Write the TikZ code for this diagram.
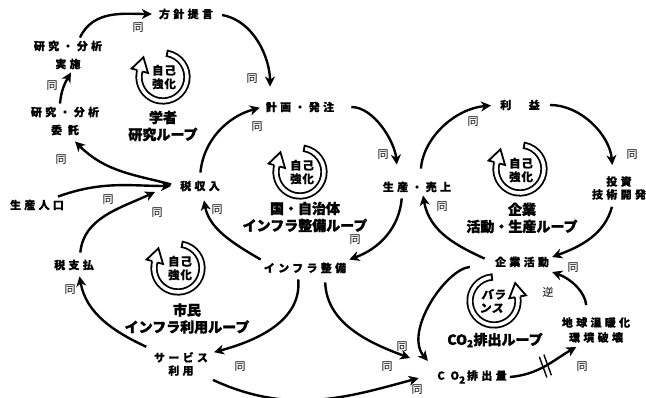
\documentclass[tikz,border=0pt]{standalone}
\usepackage{fontspec}
\setmainfont{Noto Sans CJK JP}
\newfontfamily\labf[LetterSpace=30,BoldFeatures={FakeBold=0.6}]{Noto Sans CJK JP}
\newfontfamily\ringf[LetterSpace=8,BoldFeatures={FakeBold=0.3}]{Noto Sans CJK JP}
\newfontfamily\ttlf[BoldFeatures={FakeBold=1.6}]{Noto Sans CJK JP}
\usetikzlibrary{arrows.meta,calc}
\def\ringr{24}
\newcommand\ringicon[4]{%
  \pgfmathsetmacro\sgn{ifthenelse(#4<#3,-1,1)}%
  \pgfmathsetmacro\tang{#4+90*\sgn}%
  \begin{scope}[shift={(#1,#2)}]
    \draw[ringline] (#3:\ringr) arc[start angle=#3,end angle=#4,radius=\ringr];
    \draw[line width=1.8pt] (#3:{\ringr-3.6}) -- (#3:{\ringr+3.6});
    \draw[line width=1.8pt,fill=white,line join=miter] (#4:{\ringr+2.7}) -- (#4:{\ringr+8.5}) -- ($(#4:\ringr)+(\tang:14)$) -- (#4:{\ringr-8.5}) -- (#4:{\ringr-2.7});
  \end{scope}}
\begin{document}
\begin{tikzpicture}[x=1pt,y=1pt,
  lab/.style={font=\labf\bfseries\fontsize{11}{18}\selectfont,align=center,inner sep=3pt},
  lab13/.style={lab,font=\labf\bfseries\fontsize{11}{13}\selectfont},
  dou/.style={font=\fontsize{11}{12}\selectfont,inner sep=0pt},
  ttl/.style={font=\ttlf\bfseries\fontsize{14}{17}\selectfont,align=center,inner sep=0pt},
  rtxt/.style={font=\ringf\bfseries\fontsize{11.5}{13.5}\selectfont,align=center,inner sep=0pt},
  arr/.style={line width=2.4pt,-{Stealth[length=10pt,width=10pt,inset=3pt]}},
  ringline/.style={line width=1.8pt,double=white,double distance=3.6pt}]
\useasboundingbox (0,0) rectangle (646,-398);

% loop icons
\ringicon{163}{-77}{80}{-195}
\ringicon{300}{-172}{80}{-195}
\ringicon{520}{-169}{80}{-195}
\ringicon{178}{-268}{80}{-195}
\ringicon{494}{-301}{95}{370}

% nodes
\node[lab] (fsk) at (186,-14) {方針提言};
\node[lab] (jisshi) at (68,-55) {研究・分析\\実施};
\node[lab] (itaku) at (65,-121) {研究・分析\\委 託};
\node[lab] (keikaku) at (300,-107) {計画・発注};
\node[lab] (zeishu) at (200,-186) {税収入};
\node[lab] (jinko) at (37,-205) {生産人口};
\node[lab] (zeishi) at (74,-265) {税支払};
\node[lab] (infra) at (305,-268) {インフラ整備};
\node[lab13] (service) at (181,-364) {サービス\\利用};
\node[lab] (seisan) at (417,-187) {生産・売上};
\node[lab] (rieki) at (520,-105) {利　益};
\node[lab13] (toshi) at (619,-188) {投資\\技術開発};
\node[lab] (kigyo) at (522,-262) {企業活動};
\node[lab,font=\labf\bfseries\fontsize{11}{15}\selectfont] (ondanka) at (596,-330) {地球温暖化\\環境破壊};
\node[lab] (co2) at (472,-377) {C O\raisebox{-4pt}{\fontsize{10}{10}\selectfont 2}\,排出量};

% loop titles
\node[ttl] (t1) at (163,-126) {学者\\研究ループ};
\node[ttl] (t2) at (305,-217) {国・自治体\\インフラ整備ループ};
\node[ttl] (t3) at (522,-218) {企業\\活動・生産ループ};
\node[ttl] (t4) at (187,-318.5) {市民\\インフラ利用ループ};
\node[ttl] (t5) at (495,-340) {CO\textsubscript{2}排出ループ};

% ring texts
\node[rtxt] (r1t) at (164,-77) {自己\\強化};
\node[rtxt] (r2t) at (302,-172) {自己\\強化};
\node[rtxt] (r3t) at (521,-170) {自己\\強化};
\node[rtxt] (r4t) at (180,-268) {自己\\強化};
\node[rtxt,xslant=0.15] (r5t) at (493,-301) {バラ\\ンス};

% connectors
\draw[arr] ([xshift=-5pt]itaku.north) to[out=85,in=240] ([xshift=3pt]jisshi.south);
\draw[arr,shorten >=4pt] ([xshift=12pt]jisshi.north) to[out=65,in=180] (fsk.west);
\draw[arr,shorten <=6pt,shorten >=12pt] (fsk.east) to[out=-10,in=90] ([xshift=-30pt]keikaku.north);
\draw[arr,shorten <=14pt,shorten >=14pt] (keikaku.east) to[out=0,in=95] ([xshift=-19pt]seisan.north);
\draw[arr,shorten <=5pt,shorten >=3pt] (zeishu.north) to[out=85,in=195] (keikaku.west);
\draw[arr,shorten <=6pt] (zeishu.west) to[out=165,in=-45] ([xshift=10pt,yshift=-3pt]itaku.south);
\draw[arr,shorten >=6pt] ([xshift=21pt]jinko.north) to[out=20,in=180] (zeishu.west);
\draw[arr,shorten <=4pt] ([xshift=6pt]zeishi.north) to[out=85,in=205] ([xshift=-22pt,yshift=-6pt]zeishu.west);
\draw[arr,shorten <=5pt,shorten >=3pt] (service.north west) to[out=155,in=-80] ([xshift=5pt]zeishi.south);
\draw[arr,shorten <=3pt,shorten >=3pt] ([xshift=-7pt]infra.south) to[out=-85,in=15] ([yshift=-4pt]service.north east);
\draw[arr,shorten >=6pt] (infra.north west) to[out=150,in=-80] ([xshift=3pt]zeishu.south);
\draw[arr,shorten <=3pt] ([xshift=-15pt]seisan.south) to[out=-95,in=20] (infra.north east);
\draw[arr,shorten <=10pt,shorten >=6pt] ([xshift=3pt]seisan.north) to[out=85,in=185] (rieki.west);
\draw[arr,shorten <=7pt,shorten >=8pt] (rieki.east) to[out=0,in=95] ([xshift=-6pt]toshi.north);
\draw[arr,shorten <=4pt] ([xshift=-6pt]toshi.south) to[out=-105,in=20] ([yshift=5pt]kigyo.east);
\draw[arr,shorten <=8pt] (kigyo.west) to[out=155,in=-80] ([xshift=6pt]seisan.south);
\draw[arr,shorten <=22pt,shorten >=8pt] ([yshift=-3pt]kigyo.west) to[out=185,in=130] ([xshift=-39pt]co2.north);
\draw[arr,shorten <=6pt] ([xshift=20pt]infra.south) to[out=-88,in=160] ([xshift=-24pt,yshift=19pt]co2.west);
\draw[arr,shorten <=2pt,shorten >=16pt] (service.south east) to[out=-25,in=195] ([yshift=3pt]co2.west);
\draw[arr,shorten >=2pt] (co2.east) to[out=5,in=210] coordinate[pos=0.5] (dm) ([xshift=-18pt]ondanka.south);
\draw[arr,shorten <=9pt] ([xshift=-9pt]ondanka.north) to[out=95,in=-20] ([yshift=-10pt]kigyo.east);

% delay mark
\draw[line width=1.4pt] ($(dm)+(25:-2.5)+(110:11)$) -- ($(dm)+(25:-2.5)+(110:-11)$);
\draw[line width=1.4pt] ($(dm)+(25:2.5)+(110:11)$) -- ($(dm)+(25:2.5)+(110:-11)$);

% polarity labels
\node[dou] (d1) at (138,-28) {同};
\node[dou] (d2) at (52,-86) {同};
\node[dou] (d3) at (61,-160) {同};
\node[dou] (d4) at (252,-79) {同};
\node[dou] (d5) at (257,-127) {同};
\node[dou] (d6) at (383,-155) {同};
\node[dou] (d7) at (108,-200) {同};
\node[dou] (d8) at (157,-213) {同};
\node[dou] (d9) at (217,-210) {同};
\node[dou] (d10) at (70,-290) {同};
\node[dou] (d11) at (355,-240) {同};
\node[dou] (d12) at (240,-367) {同};
\node[dou] (d13) at (442,-207) {同};
\node[dou] (d14) at (473,-122) {同};
\node[dou] (d15) at (632,-155) {同};
\node[dou] (d16) at (573,-268) {同};
\node[dou] (d17) at (402,-347) {同};
\node[dou] (d18) at (387,-367) {同};
\node[dou] (d19) at (417,-390) {同};
\node[dou] (d20) at (582,-367) {同};
\node[dou] (gyaku) at (548,-292) {逆};
\end{tikzpicture}
\end{document}
